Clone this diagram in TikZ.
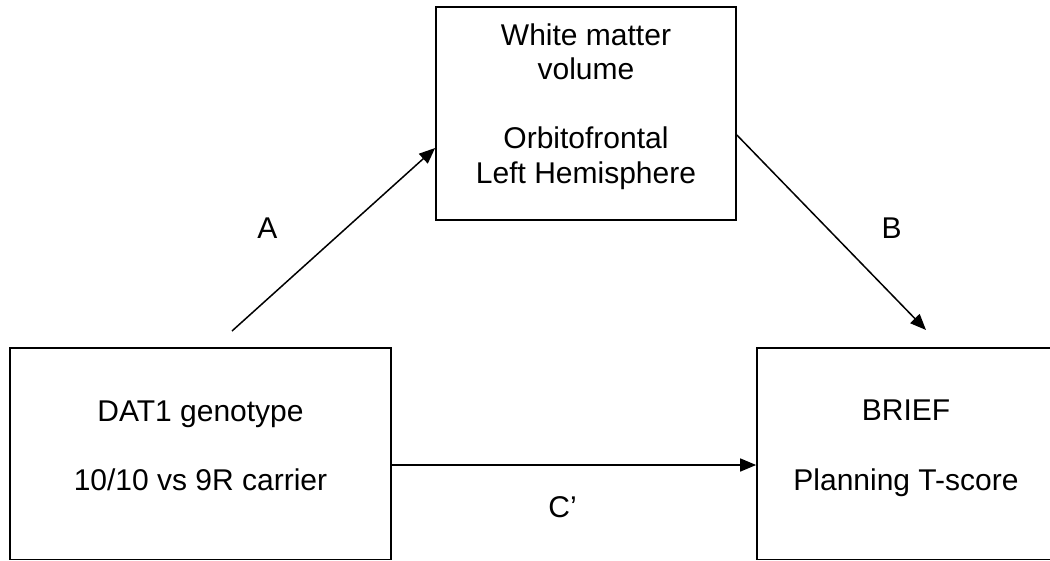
\documentclass[tikz,border=0pt]{standalone}
\usepackage{fontspec}
\setmainfont{Liberation Sans}
\usetikzlibrary{arrows.meta}
\begin{document}
\begin{tikzpicture}[x=1pt,y=-1pt,
  box/.style={draw, rectangle, inner sep=0pt, line width=1.7pt},
  txt/.style={inner sep=0pt, anchor=base, font=\fontsize{30}{34.5}\selectfont},
  conn/.style={-{Triangle[length=16pt,width=13pt]}, line width=1.5pt}]
\useasboundingbox (0,0) rectangle (1050,560);
\clip (0,0) rectangle (1050,560);
% boxes
\node[box, minimum width=300pt, minimum height=213pt] (wm) at (586,113.5) {};
\node[box, minimum width=381pt, minimum height=211.5pt] (dat) at (200.5,453.75) {};
\node[box, minimum width=298pt, minimum height=211.5pt] (brief) at (906,453.75) {};
% texts
\node[txt] (wm1) at (586,45) {White matter};
\node[txt] (wm2) at (586,79.5) {volume};
\node[txt] (wm3) at (586,148.5) {Orbitofrontal};
\node[txt] (wm4) at (586,183) {Left Hemisphere};
\node[txt] (dat1) at (200.5,421.7) {DAT1 genotype};
\node[txt] (dat2) at (200.5,490.7) {10/10 vs 9R carrier};
\node[txt] (br1) at (906,420.5) {BRIEF};
\node[txt] (br2) at (906,490) {Planning T-score};
% labels
\node[txt] (la) at (267.5,238) {A};
\node[txt] (lb) at (891.5,238) {B};
\node[txt] (lc) at (562.5,517) {C’};
% connectors
\coordinate (astart) at (232,331);
\coordinate (bend) at (926,330);
\draw[conn] (astart) -- ([yshift=-34.5pt]wm.west);
\draw[conn] ([yshift=-21.5pt]wm.east) -- (bend);
\draw[conn] ([yshift=-11.25pt]dat.east) -- ([yshift=-11.25pt]brief.west);
\end{tikzpicture}
\end{document}
